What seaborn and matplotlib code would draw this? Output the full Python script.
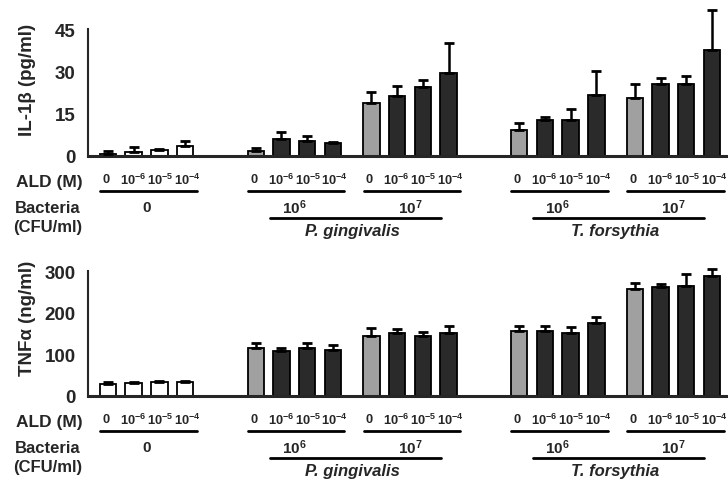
import numpy as np
import pandas as pd
import matplotlib
matplotlib.use("Agg")
import matplotlib.pyplot as plt
import matplotlib.transforms as mtrans
from matplotlib.lines import Line2D
import seaborn as sns

# ---------------- data ----------------
ald_labels = ["0", r"$\mathbf{10^{-6}}$", r"$\mathbf{10^{-5}}$", r"$\mathbf{10^{-4}}$"]
group_names = ["Control", "Pg 10^6", "Pg 10^7", "Tf 10^6", "Tf 10^7"]
bacteria_labels = ["0", r"$\mathbf{10^{6}}$", r"$\mathbf{10^{7}}$", r"$\mathbf{10^{6}}$", r"$\mathbf{10^{7}}$"]
species_labels = ["P. gingivalis", "T. forsythia"]

il1b_mean = [0.8, 1.5, 2.2, 3.5,
             1.8, 6.2, 5.3, 4.7,
             18.9, 21.2, 24.6, 29.5,
             9.1, 12.7, 12.7, 21.5,
             20.7, 25.7, 25.6, 37.7]
il1b_err = [0.8, 1.7, 0.3, 1.8,
            1.2, 2.3, 1.8, 0.4,
            3.7, 3.6, 2.2, 10.5,
            2.7, 1.1, 3.8, 8.5,
            5.0, 2.0, 2.7, 14.0]
tnf_mean = [28, 30, 32, 32,
            114, 107, 116, 111,
            145, 150, 143, 152,
            155, 155, 151, 175,
            257, 261, 265, 289]
tnf_err = [5, 4, 4, 4,
           12, 7, 12, 11,
           17, 11, 11, 17,
           14, 12, 15, 15,
           14, 8, 28, 16]

# ---------------- layout ----------------
W, H = 728, 481
GAP_BETWEEN_SPECIES = 2.75
GAP_WITHIN_SPECIES = 1.5
gaps = [0, GAP_BETWEEN_SPECIES, GAP_WITHIN_SPECIES, GAP_BETWEEN_SPECIES, GAP_WITHIN_SPECIES]
starts = []
cur = 0.0
for g in range(5):
    if g > 0:
        cur += 3 + gaps[g]
    starts.append(cur)
group_pos = [[s + j for j in range(4)] for s in starts]

rows = []
for g in range(5):
    for j in range(4):
        kind = "ctrl" if g == 0 else ("base" if j == 0 else "ald")
        k = g * 4 + j
        rows.append(dict(pos=group_pos[g][j], group=group_names[g], kind=kind,
                         il1b=il1b_mean[k], il1b_err=il1b_err[k],
                         tnf=tnf_mean[k], tnf_err=tnf_err[k]))
df = pd.DataFrame(rows)

sns.set_style("white")
plt.rcParams["font.family"] = ["Liberation Sans", "DejaVu Sans"]
plt.rcParams["mathtext.fontset"] = "custom"
plt.rcParams["mathtext.rm"] = "Liberation Sans"
plt.rcParams["mathtext.bf"] = "Liberation Sans:bold"
plt.rcParams["mathtext.it"] = "Liberation Sans:italic"

palette = {"ctrl": "#ffffff", "base": "#a0a0a0", "ald": "#2a2a2a"}

fig = plt.figure(figsize=(W / 100, H / 100), dpi=100)

def fy(px):
    return 1 - px / H

x0_px, unit_px = 108.0, 25.7
xlim = ((88 - x0_px) / unit_px, (W - x0_px) / unit_px)
LABEL_SPREAD = 1.05


def make_panel(zero_px, px_per_unit, ymax_axes, col, errcol, ticks, ylabel, yoff):
    top_px = zero_px - ymax_axes * px_per_unit
    ax = fig.add_axes([88 / W, fy(zero_px), (W - 88) / W, (zero_px - top_px) / H])
    sns.barplot(data=df, x="pos", y=col, hue="kind", palette=palette,
                native_scale=True, dodge=False, width=0.64, errorbar=None,
                edgecolor="black", linewidth=1.3, legend=False, ax=ax, zorder=2)
    ax.errorbar(df["pos"], df[col], yerr=[np.zeros(len(df)), df[errcol]],
                fmt="none", ecolor="black", elinewidth=1.8, capsize=3.5,
                capthick=2, zorder=3)
    ax.set_xlim(*xlim)
    ax.set_ylim(0, ymax_axes)
    sns.despine(ax=ax)
    ax.spines["left"].set_bounds(ticks[0], ticks[-1])
    ax.spines["left"].set_linewidth(1.5)
    ax.spines["bottom"].set_linewidth(2.2)
    ax.set_yticks(ticks)
    ax.set_yticklabels([str(t) for t in ticks], fontsize=13.5, fontweight="bold")
    ax.tick_params(axis="y", direction="out", length=5, width=1.5, pad=4)
    seps = [(group_pos[g][-1] + group_pos[g + 1][0]) / 2 for g in range(4)]
    ax.set_xticks(seps)
    ax.set_xticklabels([])
    ax.tick_params(axis="x", direction="in", length=5, width=1.5)
    ax.set_xlabel("")
    ax.set_ylabel("")
    fig.text(27 / W, fy(ylabel[1]), ylabel[0], rotation=90, ha="center",
             va="center", fontsize=13.5, fontweight="bold")

    tr = mtrans.blended_transform_factory(ax.transData, fig.transFigure)
    for g in range(5):
        xs = group_pos[g]
        mid = (xs[0] + xs[-1]) / 2
        for j, lab in enumerate(ald_labels):
            fig.text(mid + (j - 1.5) * LABEL_SPREAD, fy(180 + yoff), lab,
                     transform=tr, ha="center", va="center", fontsize=9.3,
                     fontweight="bold")
        fig.add_artist(Line2D([xs[0] - 0.3, xs[-1] + 0.45],
                              [fy(192 + yoff)] * 2, transform=tr,
                              color="black", lw=2))
        fig.text(mid, fy(208 + yoff), bacteria_labels[g],
                 transform=tr, ha="center", va="center", fontsize=11,
                 fontweight="bold")
    for s, (ga, gb) in enumerate([(1, 2), (3, 4)]):
        a, b = group_pos[ga][0] + 0.55, group_pos[gb][-1] - 0.3
        fig.add_artist(Line2D([a, b], [fy(219 + yoff)] * 2, transform=tr,
                              color="black", lw=2))
        fig.text((group_pos[ga][0] + group_pos[gb][-1]) / 2, fy(232 + yoff),
                 species_labels[s], transform=tr, ha="center", va="center",
                 fontsize=12, fontweight="bold", fontstyle="italic")
    fig.text(49 / W, fy(182 + yoff), "ALD (M)", ha="center", va="center",
             fontsize=12.5, fontweight="bold")
    fig.text(48 / W, fy(209 + yoff), "Bacteria", ha="center", va="center",
             fontsize=12, fontweight="bold")
    fig.text(48 / W, fy(228 + yoff), "(CFU/ml)", ha="center", va="center",
             fontsize=12, fontweight="bold")
    return ax


make_panel(157.0, 2.82, 53.9, "il1b", "il1b_err", [0, 15, 30, 45],
           ("IL-1\u03b2 (pg/ml)", 80), 0)
make_panel(396.7, 0.415, 310, "tnf", "tnf_err", [0, 100, 200, 300],
           ("TNF\u03b1 (ng/ml)", 318), 240)

fig.savefig("out.png", dpi=100)
